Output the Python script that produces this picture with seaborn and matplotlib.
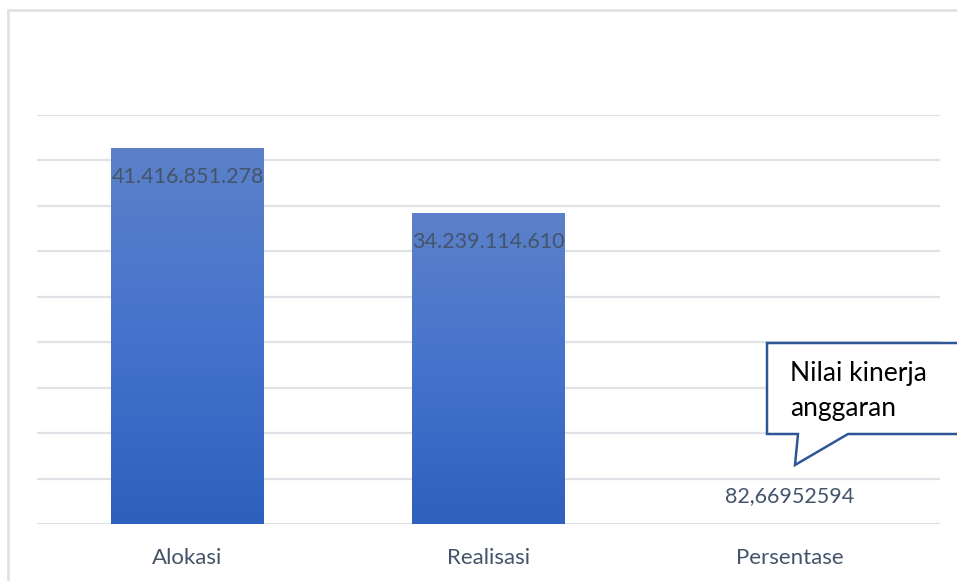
import numpy as np
import pandas as pd
import matplotlib
matplotlib.use("Agg")
import matplotlib.pyplot as plt
import seaborn as sns
from matplotlib.colors import LinearSegmentedColormap
from matplotlib.patches import Polygon
from matplotlib.lines import Line2D

categories = ["Alokasi", "Realisasi", "Persentase"]
values = [41416851278, 34239114610, 82.66952594]
value_labels = ["41.416.851.278", "34.239.114.610", "82,66952594"]
callout_text = "Nilai kinerja\nanggaran"

sns.set_theme(style="white")
plt.rcParams["font.family"] = ["Lato", "DejaVu Sans"]

W, H = 957, 581
fig = plt.figure(figsize=(W / 100, H / 100), dpi=100)
fig.patch.set_facecolor("white")

def px(x, y):
    return (x / W, 1 - y / H)

ax = fig.add_axes([37 / W, (H - 524) / H, (940 - 37) / W, (524 - 115) / H])
df = pd.DataFrame({"cat": categories, "val": values})
sns.barplot(data=df, x="cat", y="val", ax=ax, width=0.505, color="#4472c4",
            saturation=1, edgecolor="none", linewidth=0)
ax.set_ylim(0, 45e9)
ax.set_xlim(-0.5, 2.5)
ax.set_yticks(np.arange(0, 45e9 + 1, 5e9))
ax.yaxis.grid(True, color="#dfe2e7", linewidth=1.6)
ax.set_axisbelow(True)
ax.set_yticklabels([])
ax.tick_params(axis="y", length=0)
ax.tick_params(axis="x", length=0, pad=17, labelsize=16, labelcolor="#44546a")
ax.set_xlabel("")
ax.set_ylabel("")
for s in ax.spines.values():
    s.set_visible(False)

cmap = LinearSegmentedColormap.from_list("g", ["#2e60bd", "#4573cc", "#5c81c9"])
grad = np.linspace(0, 1, 256).reshape(-1, 1)
for p in ax.patches:
    x0, y0 = p.get_x(), p.get_y()
    w, h = p.get_width(), p.get_height()
    if h <= 0:
        continue
    im = ax.imshow(grad, cmap=cmap, origin="lower", aspect="auto",
                   extent=[x0, x0 + w, y0, y0 + h], zorder=p.get_zorder() + 0.1)
    im.set_clip_path(p)
ax.set_xlim(-0.5, 2.5)
ax.set_ylim(0, 45e9)

for i, (v, lab) in enumerate(zip(values, value_labels)):
    big = v > 5e9
    ax.annotate(lab, (i, v), xytext=(0, -21 if big else 20), textcoords="offset points",
                ha="center", va="center", fontsize=15.5, color="#44546a", zorder=5)

# figure border (left & top visible)
fig.add_artist(Line2D([8 / W, 8 / W], [0, 1 - 10 / H], transform=fig.transFigure,
                      color="#dfe2e6", linewidth=2))
fig.add_artist(Line2D([8 / W, 1], [1 - 10 / H, 1 - 10 / H], transform=fig.transFigure,
                      color="#dfe2e6", linewidth=2))

# callout
pts = [px(767, 343), px(970, 343), px(970, 434), px(848, 434), px(795, 465),
       px(798, 434), px(767, 434)]
fig.add_artist(Polygon(pts, closed=True, transform=fig.transFigure, facecolor="white",
                       edgecolor="#2f5597", linewidth=1.8, zorder=10))
fig.text(790 / W, 1 - 391 / H, callout_text, fontsize=19, color="black",
         ha="left", va="center", linespacing=1.5, zorder=11)

fig.savefig("out.png", dpi=100)
